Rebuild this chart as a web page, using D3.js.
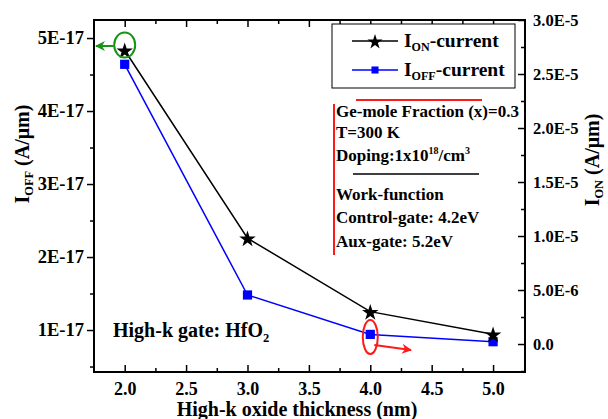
<!DOCTYPE html>
<html><head><meta charset="utf-8">
<script src="https://cdn.jsdelivr.net/npm/d3@7"></script>
<style>
body{margin:0;background:#fff;}
svg{display:block;font-family:"Liberation Serif","Times New Roman",serif;font-weight:bold;}
</style></head>
<body>
<svg id="c" width="608" height="419"></svg>
<script>
// ---- data ----
const thickness = [2.0, 3.0, 4.0, 5.0];
const ionValues = [2.72e-5, 0.98e-5, 0.30e-5, 0.09e-5];
const ioffValues = [4.64e-17, 1.48e-17, 0.94e-17, 0.84e-17];
const xTicks = [2.0, 2.5, 3.0, 3.5, 4.0, 4.5, 5.0];
const xTickLabels = ["2.0","2.5","3.0","3.5","4.0","4.5","5.0"];
const xMinorTicks = [2.25, 2.75, 3.25, 3.75, 4.25, 4.75];
const leftTicks = [1e-17, 2e-17, 3e-17, 4e-17, 5e-17];
const leftTickLabels = ["1E-17","2E-17","3E-17","4E-17","5E-17"];
const leftMinorTicks = [0.5e-17, 1.5e-17, 2.5e-17, 3.5e-17, 4.5e-17];
const rightTicks = [0, 5e-6, 1e-5, 1.5e-5, 2e-5, 2.5e-5, 3e-5];
const rightTickLabels = ["0.0","5.0E-6","1.0E-5","1.5E-5","2.0E-5","2.5E-5","3.0E-5"];
const rightMinorTicks = [-2.5e-6, 2.5e-6, 7.5e-6, 1.25e-5, 1.75e-5, 2.25e-5, 2.75e-5];
const annotationLines = ["Ge-mole Fraction (x)=0.3","T=300 K","Doping:1x10|18|/cm|3","Work-function","Control-gate: 4.2eV","Aux-gate: 5.2eV"];

const FONT = "Liberation Serif, Times New Roman, serif";
const svg = d3.select("#c");
const L=94, R=525, T=20, B=372;
const x = d3.scaleLinear().domain([1.75, 5.26]).range([L, R]);
const yL = d3.scaleLinear().domain([0.425e-17, 5.247e-17]).range([B, T]);
const yR = d3.scaleLinear().domain([-0.259e-5, 3.0e-5]).range([B, T]);

const g = svg.append("g");
function styleAxis(sel, fs){
  sel.attr("font-family", FONT);
  sel.select(".domain").remove();
  sel.selectAll(".tick line").attr("stroke","#000").attr("stroke-width",1.5);
  sel.selectAll(".tick text").attr("font-size",fs||17).attr("font-weight","bold").attr("fill","#000")
     .attr("font-family",FONT);
}
// bottom axis (ticks inward)
styleAxis(g.append("g").attr("transform",`translate(0,${B})`)
  .call(d3.axisBottom(x).tickValues(xTicks).tickFormat((d,i)=>xTickLabels[i]).tickSizeInner(-7).tickSizeOuter(0).tickPadding(10)), 18);
styleAxis(g.append("g").attr("transform",`translate(0,${B})`)
  .call(d3.axisBottom(x).tickValues(xMinorTicks).tickFormat("").tickSizeInner(-4).tickSizeOuter(0)));
// top axis (ticks inward, no labels)
styleAxis(g.append("g").attr("transform",`translate(0,${T})`)
  .call(d3.axisTop(x).tickValues(xTicks).tickFormat("").tickSizeInner(-7).tickSizeOuter(0)));
styleAxis(g.append("g").attr("transform",`translate(0,${T})`)
  .call(d3.axisTop(x).tickValues(xMinorTicks).tickFormat("").tickSizeInner(-4).tickSizeOuter(0)));
// left axis (ticks outward)
styleAxis(g.append("g").attr("transform",`translate(${L},0)`)
  .call(d3.axisLeft(yL).tickValues(leftTicks).tickFormat((d,i)=>leftTickLabels[i]).tickSizeInner(7).tickSizeOuter(0).tickPadding(3)), 18.5);
styleAxis(g.append("g").attr("transform",`translate(${L},0)`)
  .call(d3.axisLeft(yL).tickValues(leftMinorTicks).tickFormat("").tickSizeInner(4).tickSizeOuter(0)));
// right axis (ticks inward)
styleAxis(g.append("g").attr("transform",`translate(${R},0)`)
  .call(d3.axisRight(yR).tickValues(rightTicks).tickFormat((d,i)=>rightTickLabels[i]).tickSizeInner(-7).tickSizeOuter(0).tickPadding(8)), 16.5);
styleAxis(g.append("g").attr("transform",`translate(${R},0)`)
  .call(d3.axisRight(yR).tickValues(rightMinorTicks).tickFormat("").tickSizeInner(-4).tickSizeOuter(0)));

// frame
g.append("rect").attr("x",L).attr("y",T).attr("width",R-L).attr("height",B-T)
  .attr("fill","none").attr("stroke","#000").attr("stroke-width",2);

// series
const starSym = d3.symbol().type(d3.symbolStar).size(85);
const sqSym = d3.symbol().type(d3.symbolSquare).size(85);
const ionPts = thickness.map((t,i)=>[x(t), yR(ionValues[i])]);
const ioffPts = thickness.map((t,i)=>[x(t), yL(ioffValues[i])]);
g.append("path").attr("d",d3.line()(ioffPts)).attr("fill","none").attr("stroke","#0000ff").attr("stroke-width",1.5);
g.append("path").attr("d",d3.line()(ionPts)).attr("fill","none").attr("stroke","#000").attr("stroke-width",1.5);
g.selectAll(".sq").data(ioffPts).enter().append("path")
  .attr("transform",d=>`translate(${d[0]},${d[1]})`).attr("d",sqSym).attr("fill","#0000ff");
g.selectAll(".st").data(ionPts).enter().append("path")
  .attr("transform",d=>`translate(${d[0]},${d[1]+1})`).attr("d",starSym).attr("fill","#000");

// axis titles
function subTitle(sel, main, sub, rest, size){
  sel.append("tspan").text(main);
  sel.append("tspan").text(sub).attr("font-size",size*0.62).attr("dy",4);
  sel.append("tspan").text(rest).attr("dy",-4);
}
const lt = svg.append("text").attr("transform","translate(29,154) rotate(-90)").attr("text-anchor","middle")
  .attr("font-size",20).attr("font-weight","bold").attr("font-family",FONT);
subTitle(lt,"I","OFF"," (A/\u03bcm)",20);
const rt = svg.append("text").attr("transform","translate(599,160) rotate(-90)").attr("text-anchor","middle")
  .attr("font-size",20).attr("font-weight","bold").attr("font-family",FONT);
subTitle(rt,"I","ON"," (A/\u03bcm)",20);
svg.append("text").attr("x",297).attr("y",416).attr("text-anchor","middle").attr("font-size",20)
  .attr("font-weight","bold").attr("font-family",FONT).text("High-k oxide thickness (nm)");

// legend
const lg = svg.append("g").attr("font-family",FONT);
lg.append("rect").attr("x",332).attr("y",24).attr("width",183).attr("height",64)
  .attr("fill","#fff").attr("stroke","#000").attr("stroke-width",1);
const legendRows = [{c:"#000", sym:d3.symbol().type(d3.symbolStar).size(70), sub:"ON", y:41},
                    {c:"#0000ff", sym:d3.symbol().type(d3.symbolSquare).size(50), sub:"OFF", y:70}];
legendRows.forEach(r=>{
  lg.append("line").attr("x1",352).attr("x2",398).attr("y1",r.y).attr("y2",r.y).attr("stroke",r.c).attr("stroke-width",1.5);
  lg.append("path").attr("transform",`translate(375,${r.y+(r.sub==="ON"?1:0)})`).attr("d",r.sym).attr("fill",r.c);
  const t = lg.append("text").attr("x",404).attr("y",r.y+6).attr("font-size",19.5).attr("font-weight","bold");
  subTitle(t,"I",r.sub,"-current",19.5);
});

// annotation block
const an = svg.append("g").attr("font-family",FONT);
an.append("line").attr("x1",356).attr("x2",482).attr("y1",100).attr("y2",100).attr("stroke","#ff1a1a").attr("stroke-width",2);
an.append("line").attr("x1",334).attr("x2",334).attr("y1",104).attr("y2",255).attr("stroke","#ff1a1a").attr("stroke-width",2);
an.append("line").attr("x1",353).attr("x2",479).attr("y1",174).attr("y2",174).attr("stroke","#000").attr("stroke-width",1.5);
const annY = [117,138,161,200,223,247];
annotationLines.forEach((s,i)=>{
  const t = an.append("text").attr("x",336).attr("y",annY[i]).attr("font-size",17).attr("font-weight","bold");
  const parts = s.split("|");
  parts.forEach((p,j)=>{
    const sp = t.append("tspan").text(p);
    if(j%2===1){ sp.attr("font-size",10).attr("dy",-7); }
    else if(j>0){ sp.attr("dy",7); }
  });
});

// High-k gate label
const hk = svg.append("text").attr("x",113).attr("y",337).attr("font-size",20).attr("font-weight","bold").attr("font-family",FONT);
hk.append("tspan").text("High-k gate: HfO");
hk.append("tspan").text("2").attr("font-size",12.5).attr("dy",5);

// markers: green ellipse + arrow, red ellipse + arrow
const defs = svg.append("defs");
[["ag","#169416"],["ar","#ff1a1a"]].forEach(([id,c])=>{
  defs.append("marker").attr("id",id).attr("viewBox","0 0 10 10").attr("refX",9).attr("refY",5)
    .attr("markerWidth",5).attr("markerHeight",5).attr("orient","auto")
    .append("path").attr("d","M0,0 L10,5 L0,10 L3,5 Z").attr("fill",c);
});
svg.append("ellipse").attr("cx",x(2.0)).attr("cy",45).attr("rx",10.5).attr("ry",12.5)
  .attr("fill","none").attr("stroke","#169416").attr("stroke-width",2);
svg.append("line").attr("x1",x(2.0)-11).attr("y1",46).attr("x2",96).attr("y2",46)
  .attr("stroke","#169416").attr("stroke-width",2).attr("marker-end","url(#ag)");
svg.append("ellipse").attr("cx",x(4.0)).attr("cy",337).attr("rx",7.5).attr("ry",17)
  .attr("fill","none").attr("stroke","#ff1a1a").attr("stroke-width",2);
svg.append("line").attr("x1",x(4.0)+4).attr("y1",345).attr("x2",411).attr("y2",350)
  .attr("stroke","#ff1a1a").attr("stroke-width",2).attr("marker-end","url(#ar)");
</script>
</body></html>
